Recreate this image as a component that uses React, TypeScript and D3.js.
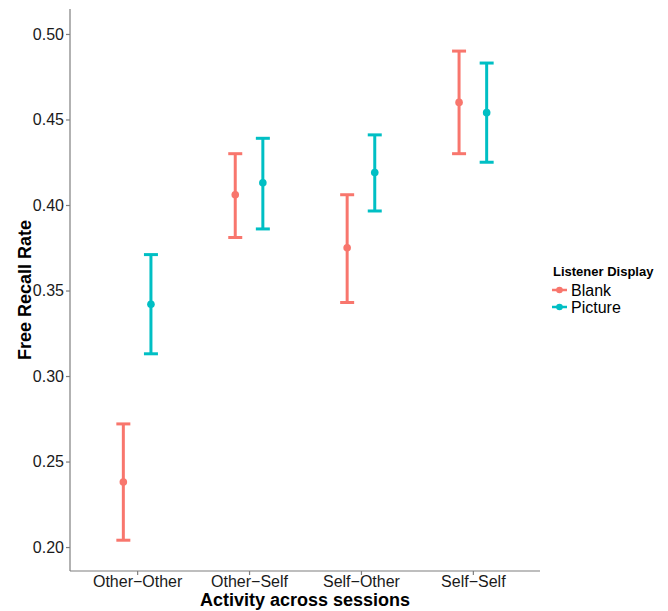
import React, { useEffect, useRef } from "react";
import * as d3 from "d3";

const categories = ["Other−Other", "Other−Self", "Self−Other", "Self−Self"];
const groups = ["Blank", "Picture"];

const blankMean = [0.238, 0.406, 0.375, 0.46];
const blankLower = [0.204, 0.381, 0.343, 0.43];
const blankUpper = [0.272, 0.43, 0.406, 0.49];

const pictureMean = [0.342, 0.413, 0.419, 0.454];
const pictureLower = [0.313, 0.386, 0.3965, 0.425];
const pictureUpper = [0.371, 0.439, 0.441, 0.483];

const yTicks = [0.2, 0.25, 0.3, 0.35, 0.4, 0.45, 0.5];

function App() {
  const ref = useRef<SVGSVGElement>(null);

  useEffect(() => {
    const width = 668,
      height = 611;
    const left = 70,
      right = 540,
      top = 9,
      bottom = 571;
    const font = "'Liberation Sans', Arial, sans-serif";

    const svg = d3.select(ref.current);
    svg.selectAll("*").remove();
    svg.attr("width", width).attr("height", height);

    const x = d3.scalePoint().domain(categories).range([left, right]).padding(0.6);
    const y = d3.scaleLinear().domain([0.186, 0.5146]).range([bottom, top]);
    const color = d3.scaleOrdinal<string>().domain(groups).range(["#F8766D", "#00BFC4"]);
    const dodge = d3.scalePoint().domain(groups).range([-13.8, 13.8]);

    const data = groups.flatMap((g) =>
      categories.map((c, i) => ({
        cat: c,
        group: g,
        mean: g === "Blank" ? blankMean[i] : pictureMean[i],
        lo: g === "Blank" ? blankLower[i] : pictureLower[i],
        hi: g === "Blank" ? blankUpper[i] : pictureUpper[i],
      }))
    );

    // axes
    const yAxis = d3
      .axisLeft(y)
      .tickValues(yTicks)
      .tickFormat(d3.format(".2f"))
      .tickSize(4)
      .tickSizeOuter(0)
      .tickPadding(2);
    const gy = svg.append("g").attr("transform", `translate(${left},0)`).call(yAxis);
    gy.select(".domain").attr("d", `M0,${top}V${bottom}`);

    const xAxis = d3.axisBottom(x).tickSize(4).tickSizeOuter(0).tickPadding(1);
    const gx = svg.append("g").attr("transform", `translate(0,${bottom})`).call(xAxis);
    gx.select(".domain").attr("d", `M${left},0H${right}`);

    [gx, gy].forEach((g) => {
      g.selectAll(".domain, .tick line").attr("stroke", "#7f7f7f").attr("stroke-width", 1.2);
      g.selectAll(".tick text")
        .attr("fill", "#1a1a1a")
        .style("font-family", font)
        .style("font-size", "16px");
    });

    // axis titles
    svg
      .append("text")
      .attr("x", (left + right) / 2)
      .attr("y", 606)
      .attr("text-anchor", "middle")
      .style("font-family", font)
      .style("font-size", "18px")
      .style("font-weight", "bold")
      .text("Activity across sessions");

    svg
      .append("text")
      .attr("transform", `translate(25,${(top + bottom) / 2}) rotate(-90)`)
      .attr("text-anchor", "middle")
      .attr("dy", "0.35em")
      .style("font-family", font)
      .style("font-size", "18px")
      .style("font-weight", "bold")
      .text("Free Recall Rate");

    // error bars
    const bars = svg
      .append("g")
      .selectAll("g")
      .data(data)
      .enter()
      .append("g")
      .attr("stroke", (d) => color(d.group))
      .attr("fill", (d) => color(d.group));

    const cx = (d: any) => (x(d.cat) as number) + (dodge(d.group) as number);

    bars
      .append("line")
      .attr("x1", cx)
      .attr("x2", cx)
      .attr("y1", (d) => y(d.lo))
      .attr("y2", (d) => y(d.hi))
      .attr("stroke-width", 3);

    bars
      .append("line")
      .attr("x1", (d) => cx(d) - 7)
      .attr("x2", (d) => cx(d) + 7)
      .attr("y1", (d) => y(d.hi))
      .attr("y2", (d) => y(d.hi))
      .attr("stroke-width", 3);

    bars
      .append("line")
      .attr("x1", (d) => cx(d) - 7)
      .attr("x2", (d) => cx(d) + 7)
      .attr("y1", (d) => y(d.lo))
      .attr("y2", (d) => y(d.lo))
      .attr("stroke-width", 3);

    bars
      .append("circle")
      .attr("cx", cx)
      .attr("cy", (d) => y(d.mean))
      .attr("r", 3.8)
      .attr("stroke", "none");

    // legend
    const legend = svg.append("g").attr("transform", "translate(552,0)");
    legend
      .append("text")
      .attr("x", 1)
      .attr("y", 276)
      .style("font-family", font)
      .style("font-size", "13px")
      .style("font-weight", "bold")
      .text("Listener Display");

    const item = legend
      .selectAll(".item")
      .data(groups)
      .enter()
      .append("g")
      .attr("class", "item")
      .attr("transform", (d, i) => `translate(0,${290 + i * 17})`);

    item
      .append("line")
      .attr("x1", 0)
      .attr("x2", 15)
      .attr("stroke", (d) => color(d))
      .attr("stroke-width", 2.5);
    item
      .append("circle")
      .attr("cx", 7.5)
      .attr("r", 3.3)
      .attr("fill", (d) => color(d));
    item
      .append("text")
      .attr("x", 19)
      .attr("dy", "0.35em")
      .style("font-family", font)
      .style("font-size", "16px")
      .text((d) => d);
  }, []);

  return <svg ref={ref} style={{ position: "absolute", left: 0, top: 0 }} />;
}

export default App;
